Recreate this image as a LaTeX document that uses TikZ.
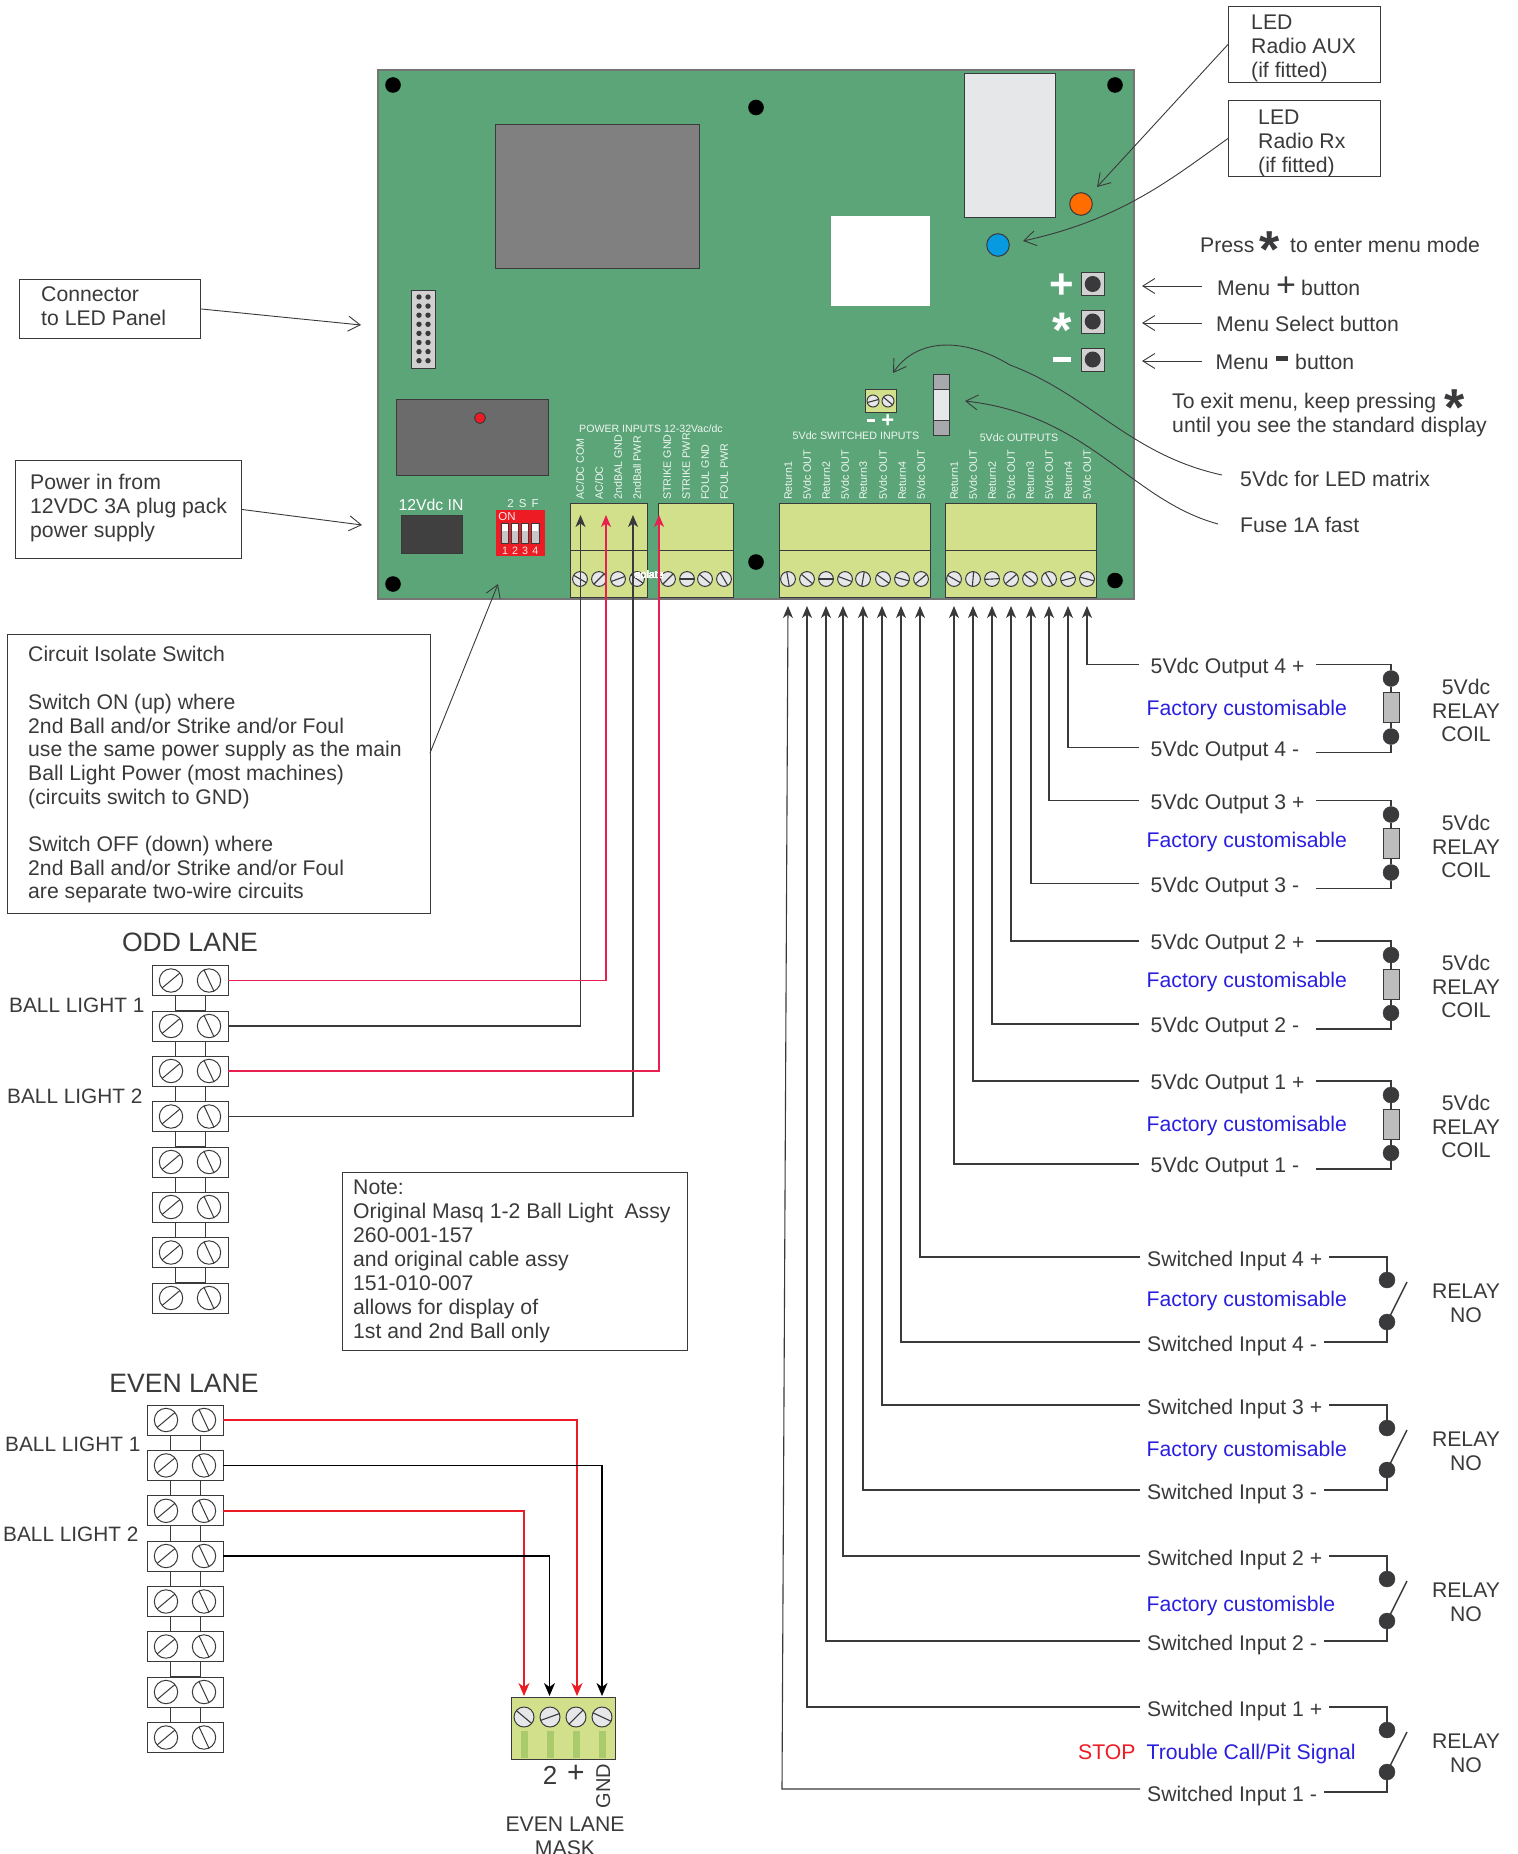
\documentclass[tikz,border=0pt]{standalone}
\usepackage{fontspec}
\setmainfont{Liberation Sans}
\usetikzlibrary{arrows.meta,calc}
\definecolor{ink}{HTML}{3A3A3C}
\definecolor{pcb}{HTML}{5CA578}
\definecolor{blockc}{HTML}{D2E08C}
\definecolor{strip}{HTML}{A9CB6C}
\definecolor{fblue}{HTML}{2A1FE0}
\definecolor{sred}{HTML}{ED1C24}
\definecolor{wred}{HTML}{E8204F}
\definecolor{cap}{HTML}{A7A9AC}
\definecolor{light}{HTML}{E6E7E8}
\newcommand\mainsize{\fontsize{21.2}{24}\selectfont}
\tikzset{
 lbl/.style={inner sep=0pt,anchor=base west,text=ink,font=\mainsize},
 clbl/.style={inner sep=0pt,anchor=base,text=ink,font=\mainsize},
 wlab/.style 2 args={inner xsep=#1,inner ysep=0pt,anchor=west,text=ink,text height=#2,text depth=1pt,font=\mainsize},
 smalltext/.style={inner sep=0pt,anchor=base,text=white,opacity=.9,font=\fontsize{10.7}{12}\selectfont},
 rot/.style={inner sep=0pt,anchor=west,rotate=90,text=white,opacity=.9,text height=7.5pt,text depth=0pt,font=\fontsize{10.7}{12}\selectfont},
 tbox/.style={draw=ink,line width=.9pt,inner sep=0pt},
 ttext/.style={inner sep=0pt,text=ink,align=left,anchor=west,font=\mainsize},
 wire/.style={draw=ink,line width=1.1pt},
 wtip/.style={wire,-{Stealth[length=12pt,width=10pt,inset=3.5pt]}},
 note/.style={draw=ink,line width=.9pt,-{Straight Barb[length=12pt,width=15pt]}},
 part/.style={draw=ink,line width=1pt},
 hole/.style={fill=black},
 dot/.style={fill=ink,draw=ink},
}
\newcommand\screw[4]{\draw[part,fill=light] (#1,#2) circle (#3);\draw[draw=ink,line width=1.1pt] (#1,#2) ++(#4:#3) -- ++(#4+180:2*#3);}
\newcommand\tscrew[4]{\draw[draw=ink,line width=1pt,fill=white] (#1,#2) circle (#3);\draw[draw=ink,line width=1pt] (#1,#2) ++(#4:#3) -- ++(#4+180:2*#3);}
\newcommand\trow[2]{\draw[draw=ink,line width=1pt,fill=white] (#1,#2-15) rectangle (#1+76,#2+15);
 \tscrew{#1+19}{#2}{11.7}{-40}\tscrew{#1+57}{#2}{11.7}{65}}
\newcommand\tlink[2]{\draw[draw=ink,line width=1pt,fill=white] (#1+23,#2+15) rectangle (#1+53,#2+30.4);}
\newcommand\outgrp[6]{
 \node[wlab={11.5pt}{18pt}] (#1p) at (1139,#2) {5Vdc Output #5 +};
 \node[wlab={11.5pt}{18pt}] (#1m) at (1139,#2+83) {5Vdc Output #5 -};
 \node[lbl,text=fblue] (#1f) at (1146.5,#2+#6) {Factory customisable};
 \node[inner sep=0pt,part,fill=black!26,minimum width=16pt,minimum height=30pt] (#1r) at (1391,#2+43) {};
 \node[circle,dot,minimum size=16pt,inner sep=0pt] (#1a) at (1391,#2+14) {};
 \node[circle,dot,minimum size=16pt,inner sep=0pt] (#1b) at (1391,#2+72) {};
 \draw[wire] (#1a) -- (#1r); \draw[wire] (#1b) -- (#1r);
 \draw[wtip] (#1p.west) -| (#3);
 \draw[wtip] (#1m.west) -| (#4);
 \draw[wire] (#1p.east) -| (#1a);
 \draw[wire] ($(#1m.east)+(5,5)$) -| (#1b);
 \node[clbl] (#1x) at (1466,#2+29.5) {5Vdc};
 \node[clbl] (#1y) at (1466,#2+53.5) {RELAY};
 \node[clbl] (#1z) at (1466,#2+76.5) {COIL};
}
\newcommand\swgrp[7]{
 \node[wlab={7pt}{20pt}] (#1p) at (1140,#2) {Switched Input #5 +};
 \node[wlab={7pt}{20pt}] (#1m) at (1140,#2+85) {Switched Input #5 -};
 \node[lbl,text=fblue] (#1f) at (1146.5,#2+#7) {#6};
 \node[circle,dot,minimum size=16pt,inner sep=0pt] (#1a) at (1387,#2+23) {};
 \node[circle,dot,minimum size=16pt,inner sep=0pt] (#1b) at (1387,#2+65) {};
 \coordinate (#1c) at (1407,#2+25);
 \draw[wire,line width=1.4pt] (#1b.center) -- (#1c);
 \draw[wire] (#1p.east) -| (#1a);
 \draw[wire] (#1m.east) -| (#1b);
 \draw[wtip] (#1p.west) -| (#3);
 \node[clbl] (#1y) at (1466,#2+41.5) {RELAY};
 \node[clbl] (#1z) at (1466,#2+65.5) {NO};
}
\begin{document}
\begin{tikzpicture}[x=1pt,y=-1pt]
\useasboundingbox (0,0) rectangle (1517,1854);
\fill[white] (0,0) rectangle (1517,1854);
%% board
\draw[fill=pcb,draw=ink!70,line width=1.2pt] (378,70) rectangle (1134,599);
\foreach \hx/\hy in {393/85,756/107.5,1115/85,393/584,756/562,1115/580.5} \fill[hole] (\hx,\hy) circle (7.8);
\draw[part,fill=black!50] (495,125) rectangle (699,268);
\draw[part,fill=light] (964,74) rectangle (1055,217);
\fill[white] (831,216) rectangle (930,306);
\draw[part,fill=orange!85!red] (1081,204) circle (11.3);
\draw[part,fill=cyan!85!blue] (998,245) circle (11.3);
\foreach \by in {284,321.5,359.5}{\draw[part,fill=black!18] (1081.5,\by-11.5) rectangle (1104,\by+11.5); \fill[ink] (1092.7,\by) circle (8);}
\node[inner sep=0pt,anchor=base,text=white,font=\fontsize{42}{42}\selectfont\bfseries] (bplus) at (1062,298) {+};
\node[inner sep=0pt,anchor=base,text=white,font=\fontsize{50}{50}\selectfont\bfseries] (bstar) at (1062,347) {*};
\fill[white] (1053,356.5) rectangle (1071,362);
\draw[part,fill=black!18] (411,290) rectangle (435,368);
\foreach \px in {419,428}\foreach \py in {297,306.1,...,362}\fill[ink] (\px,\py) circle (2.7);
\draw[part,fill=black!58] (396,399) rectangle (548,475);
\draw[part,fill=sred] (480,418) circle (5.5);
\node[inner sep=0pt,anchor=base,text=white,font=\fontsize{15.8}{16}\selectfont] (dcin) at (431,510) {12Vdc IN};
\draw[part,fill=black!75] (401,515) rectangle (462,553);
\fill[sred] (496,510) rectangle (545,556);
\node[smalltext,font=\fontsize{11.5}{12}\selectfont] (dtop) at (523,507) {2\hspace{5pt}S\hspace{5pt}F};
\node[smalltext,font=\fontsize{11.5}{12}\selectfont] (don) at (507,520.5) {ON};
\foreach \dx/\dn in {505/1,515/2,525/3,535.3/4}{
 \draw[draw=ink,fill=black!22,line width=.6pt] (\dx-3.7,523) rectangle (\dx+3.7,543.5);
 \fill[white] (\dx-3,524) rectangle (\dx+3,531);
 \node[smalltext] at (\dx,554) {\dn};}
\foreach \ax/\bx in {570/647,658/733,779/930,945/1096}{
 \draw[part,fill=blockc] (\ax,503) rectangle (\bx,597);
 \draw[part] (\ax,550) -- (\bx,550);}
\foreach \sx/\sa in {580/30,599/-45,618/-20,637/35,668/-45,687/0,705/40,724/60,
 788/80,807/40,826/0,845/20,863/-80,883/35,902/15,921/-40,
 954/30,973/-85,992/-3,1011/-40,1030/40,1049/60,1068/-15,1087/15}
 \screw{\sx}{579}{7.4}{\sa}
\node[smalltext,opacity=.5] (iso) at (648,578) {Isolate};
\node[smalltext,font=\fontsize{10.6}{12}\selectfont] (pwr) at (651,432) {POWER INPUTS 12-32Vac/dc};
\node[smalltext] (swi) at (856,439) {5Vdc SWITCHED INPUTS};
\node[smalltext] (ou) at (1019,441) {5Vdc OUTPUTS};
\foreach \tx/\tl in {580/{AC/DC COM},599/{AC/DC},618/2ndBAL GND,637/2ndBall PWR,667/STRIKE GND,686/STRIKE PWR,705/FOUL GND,724/FOUL PWR}
 \node[rot] at (\tx,500) {\tl};
\foreach \tx/\tl in {788/Return1,807/5Vdc OUT,826/Return2,845/5Vdc OUT,863/Return3,883/5Vdc OUT,902/Return4,921/5Vdc OUT,
 954/Return1,973/5Vdc OUT,992/Return2,1011/5Vdc OUT,1030/Return3,1049/5Vdc OUT,1068/Return4,1087/5Vdc OUT}
 \node[rot] at (\tx,500) {\tl};
\draw[part,fill=blockc] (865,389) rectangle (896,412);
\screw{873}{401}{6}{-15}\screw{888}{401}{6}{40}
\node[inner sep=0pt,anchor=base,text=white,font=\fontsize{22}{22}\selectfont\bfseries] (dblk) at (880.5,427) {\rule[5.5pt]{8pt}{2.6pt}\hspace{6.5pt}+};
\draw[part,fill=light] (933,389) rectangle (949,420);
\draw[part,fill=cap] (933,374) rectangle (949,389);
\draw[part,fill=cap] (933,420) rectangle (949,435);
%% text boxes
\node[tbox,anchor=north west,minimum width=152pt,minimum height=76pt] (auxb) at (1228,6) {};
\node[ttext] (ledaux) at (1251,48) {LED\\Radio AUX\\(if fitted)};
\node[tbox,anchor=north west,minimum width=152pt,minimum height=76pt] (rxb) at (1228,100) {};
\node[ttext] (ledrx) at (1258,143) {LED\\Radio Rx\\(if fitted)};
\coordinate (auxtip) at (1097,187);
\draw[note] (auxb.west) -- (auxtip);
\coordinate (rxtip) at (1023,241);
\draw[note] (rxb.west) .. controls (1170,180) and (1120,220) .. (rxtip);
\node[tbox,anchor=north west,minimum width=181pt,minimum height=59pt] (connb) at (19,279) {};
\node[ttext] (conn) at (41,306) {Connector\\to LED Panel};
\coordinate (conntip) at (361,325);
\draw[note] (connb.east) -- (conntip);
\node[tbox,anchor=north west,minimum width=226pt,minimum height=98pt] (pwrb) at (15,460) {};
\node[ttext] (pwrbox) at (30,508.5) {Power in from\\12VDC 3A plug pack\\power supply};
\coordinate (pwrtip) at (362,525);
\draw[note] (pwrb.east) -- (pwrtip);
\node[tbox,anchor=north west,minimum width=423pt,minimum height=279pt] (isob) at (7,634) {};
\node[ttext,font=\fontsize{21.2}{23.7}\selectfont] (iso2) at (28,775) {Circuit Isolate Switch\\ \mbox{}\\Switch ON (up) where\\2nd Ball and/or Strike and/or Foul\\use the same power supply as the main\\Ball Light Power (most machines)\\(circuits switch to GND)\\ \mbox{}\\Switch OFF (down) where\\2nd Ball and/or Strike and/or Foul\\are separate two-wire circuits};
\coordinate (isoe) at (430,753);
\coordinate (isotip) at (498,584);
\draw[note] (isoe) -- (isotip);
\node[tbox,anchor=north west,minimum width=345pt,minimum height=178pt] (noteb) at (342,1172) {};
\node[ttext] (notebox) at (353,1261) {Note:\\Original Masq 1-2 Ball Light\hspace{11pt}Assy\\260-001-157\\and original cable assy\\151-010-007\\allows for display of\\1st and 2nd Ball only};
%% right annotations
\node[lbl] (press) at (1200,252.5) {Press};
\node[inner sep=0pt,anchor=base,text=ink,font=\fontsize{52}{52}\selectfont\bfseries] (st1) at (1270,267) {*};
\node[lbl] (enter) at (1290,252.5) {to enter menu mode};
\node[lbl] (m1) at (1217,295) {Menu};
\node[inner sep=0pt,anchor=base,text=ink,font=\fontsize{34}{34}\selectfont] (mp) at (1286,296) {+};
\node[lbl] (m1b) at (1301,295) {button};
\node[lbl] (m2) at (1216,331) {Menu Select button};
\node[lbl] (m3) at (1215.5,369) {Menu};
\fill[ink] (1276,356) rectangle (1288,360.5);
\node[lbl] (m3b) at (1295,369) {button};
\coordinate (a1) at (1202,286); \coordinate (a1t) at (1142,286);
\coordinate (a2) at (1202,323); \coordinate (a2t) at (1142,323);
\coordinate (a3) at (1202,361); \coordinate (a3t) at (1142,361);
\draw[note] (a1) -- (a1t); \draw[note] (a2) -- (a2t); \draw[note] (a3) -- (a3t);
\node[lbl] (ex1) at (1172,408.5) {To exit menu, keep pressing};
\node[inner sep=0pt,anchor=base,text=ink,font=\fontsize{52}{52}\selectfont\bfseries] (st2) at (1455,425) {*};
\node[lbl] (ex2) at (1172,432.5) {until you see the standard display};
\node[lbl] (ledm) at (1240,486) {5Vdc for LED matrix};
\node[lbl] (fuse) at (1240,532.5) {Fuse 1A fast};
\coordinate (ledmend) at (1222,475); \coordinate (ledmtip) at (893,373);
\coordinate (fuseend) at (1218,524); \coordinate (fusetip) at (965,401);
\draw[note] (ledmend) .. controls (1130,455) and (1090,395) .. (1010,365) .. controls (960,335) and (915,340) .. (ledmtip);
\draw[note] (fuseend) .. controls (1130,500) and (1090,415) .. (fusetip);
%% wires
\foreach \tn/\tx in {1/788,2/807,3/826,4/843,5/863,6/882,7/901,8/920}\coordinate (s\tn) at (\tx,606);
\foreach \tn/\tx in {1/954,2/973,3/992,4/1011,5/1031,6/1049,7/1068,8/1087}\coordinate (o\tn) at (\tx,606);
\outgrp{ofour}{664.5}{o8}{o7}{4}{51}
\outgrp{othree}{800.5}{o6}{o5}{3}{47}
\outgrp{otwo}{941}{o4}{o3}{2}{46.5}
\outgrp{oone}{1081}{o2}{o1}{1}{50}
\swgrp{sfour}{1257}{s8}{s7}{4}{Factory customisable}{49}
\swgrp{sthree}{1405}{s6}{s5}{3}{Factory customisable}{51}
\swgrp{stwo}{1556}{s4}{s3}{2}{Factory customisble}{55}
\swgrp{sone}{1707}{s2}{s1}{1}{Trouble Call/Pit Signal}{52}
\draw[wtip] (sfourm.west) -| (s7);
\draw[wtip] (sthreem.west) -| (s5);
\draw[wtip] (stwom.west) -| (s3);
\coordinate (scorner) at (782,1789);
\draw[wtip] ($(sonem.west)+(0,-3)$) -- (scorner) -- (s1);
\node[lbl,text=sred] (stop) at (1078,1759) {STOP};
%% odd lane
\node[clbl,font=\fontsize{26.6}{28}\selectfont] (oddl) at (190,951) {ODD LANE};
\node[lbl,font=\fontsize{20.8}{24}\selectfont] (obl1) at (9,1012) {BALL LIGHT 1};
\node[lbl,font=\fontsize{20.8}{24}\selectfont] (obl2) at (7,1103) {BALL LIGHT 2};
\foreach \ry in {980.5,1026,1071,1116.5,1162,1207,1252.5}\tlink{152}{\ry}
\foreach \ry in {980.5,1026,1071,1116.5,1162,1207,1252.5,1298}\trow{152}{\ry}
\coordinate (r1) at (228,980.5); \coordinate (r2) at (228,1026); \coordinate (r3) at (228,1071); \coordinate (r4) at (228,1116.5);
\coordinate (pa) at (580.5,515); \coordinate (pb) at (606,515); \coordinate (pc) at (633,515); \coordinate (pd) at (659,515);
\draw[wtip] (r2) -| (pa);
\draw[wtip,draw=wred] (r1) -| (pb);
\draw[wtip] (r4) -| (pc);
\draw[wtip,draw=wred] (r3) -| (pd);
%% even lane
\node[clbl,font=\fontsize{26.6}{28}\selectfont] (evl) at (184,1392) {EVEN LANE};
\node[lbl,font=\fontsize{20.8}{24}\selectfont] (ebl1) at (5,1451.5) {BALL LIGHT 1};
\node[lbl,font=\fontsize{20.8}{24}\selectfont] (ebl2) at (3,1541.5) {BALL LIGHT 2};
\foreach \ry in {1420,1465.4,1510.8,1556,1601.5,1646.5,1692}\tlink{147}{\ry}
\foreach \ry in {1420,1465.4,1510.8,1556,1601.5,1646.5,1692,1737.5}\trow{147}{\ry}
\coordinate (e1) at (223,1420); \coordinate (e2) at (223,1465.4); \coordinate (e3) at (223,1510.8); \coordinate (e4) at (223,1556);
\coordinate (ka) at (524,1696); \coordinate (kb) at (549.5,1696); \coordinate (kc) at (577,1696); \coordinate (kd) at (602,1696);
\tikzset{ewire/.style={line width=1.5pt,-{Stealth[length=13pt,width=11pt,inset=4pt]}}}
\draw[ewire,draw=sred] (e1) -| (kc);
\draw[ewire,draw=black] (e2) -| (kd);
\draw[ewire,draw=sred] (e3) -| (ka);
\draw[ewire,draw=black] (e4) -| (kb);
\draw[part,fill=blockc] (511,1697) rectangle (615,1759);
\foreach \sx/\sa in {524/40,550/-20,576/-45,602/25}{
 \fill[strip] (\sx-3.5,1731) rectangle (\sx+3.5,1758);
 \screw{\sx}{1717}{10}{\sa}}
\node[clbl,font=\fontsize{26}{28}\selectfont] (ek2) at (550,1784) {2};
\node[clbl,font=\fontsize{30}{28}\selectfont] (ekp) at (576,1782) {+};
\node[inner sep=0pt,anchor=center,rotate=90,text=ink,text height=14pt,text depth=0pt,font=\fontsize{20}{22}\selectfont] (ekg) at (603,1786) {GND};
\node[clbl] (em1) at (565,1831.5) {EVEN LANE};
\node[clbl] (em2) at (565,1855) {MASK};
\end{tikzpicture}
\end{document}
